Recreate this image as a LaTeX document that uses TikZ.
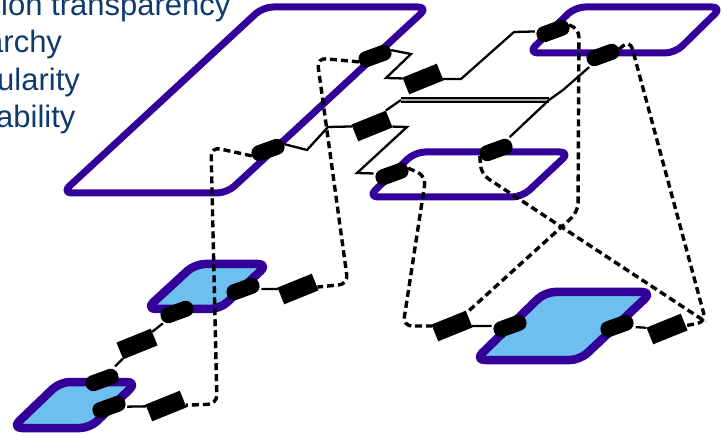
\documentclass[tikz,border=0pt]{standalone}
\usepackage{fontspec}
\setmainfont{Liberation Sans}
\definecolor{planeviolet}{HTML}{330099}
\definecolor{planefill}{HTML}{6DBFEF}
\definecolor{textnavy}{HTML}{0E3B6C}

\begin{document}
\begin{tikzpicture}[x=1pt, y=-1pt,
            port node/.style={rectangle, rounded corners=7.5pt, fill=black, inner sep=0pt, minimum width=34pt, minimum height=16pt, rotate=20},
            block node/.style={rectangle, fill=black, inner sep=0pt, minimum width=37pt, minimum height=18pt, rotate=22},
            wire edge/.style={draw=black, line width=2.3pt}]
            \tikzset{plane edge/.style={draw=planeviolet, line width=7pt, rounded corners=10pt, line join=round}}
            \tikzset{filled plane/.style={plane edge, fill=planefill, line width=8.5pt}}
            \tikzset{dash edge/.style={draw=black, line width=3.4pt, dash pattern=on 7pt off 4pt, rounded corners=9pt}}
            \tikzset{label text/.style={anchor=base west, text=textnavy, inner sep=0pt, font=\fontsize{31}{37}\selectfont}}
            \useasboundingbox (0,0) rectangle (723,438);
            % text on the left, cut by the border
            \node [label text] (t1) at (1, 16) {ion transparency};
            \node [label text] (t2) at (-14, 53) {archy};
            \node [label text] (t3) at (-3, 91) {ularity};
            \node [label text] (t4) at (-4, 128) {ability};
            % planes
            \draw [plane edge] (263,7) -- (428,7) -- (227,193) -- (62,193) -- cycle;
            \draw [plane edge] (575,7) -- (722,7) -- (675,53) -- (528,53) -- cycle;
            \draw [plane edge] (415,152) -- (570,152) -- (522,197) -- (368,197) -- cycle;
            \draw [filled plane] (195,264) -- (268,264) -- (220,309) -- (146,309) -- cycle;
            \draw [filled plane] (60,382) -- (137,382) -- (90,428) -- (12,428) -- cycle;
            \draw [filled plane] (545,292) -- (652,292) -- (580,360) -- (475,360) -- cycle;
            % ports
            \node [port node] (p1) at (375, 56) {};
            \node [port node] (p2) at (268, 150) {};
            \node [port node] (p3) at (553, 31) {};
            \node [port node] (p4) at (603, 55) {};
            \node [port node] (p5) at (392, 174) {};
            \node [port node] (p6) at (496, 150) {};
            \node [port node] (p7) at (243, 289) {};
            \node [port node] (p8) at (177, 312) {};
            \node [port node] (p9) at (102, 380) {};
            \node [port node] (p10) at (109, 407) {};
            \node [port node] (p11) at (510, 326) {};
            \node [port node] (p12) at (617, 326) {};
            % blocks
            \node [block node] (b1) at (423, 79) {};
            \node [block node] (b2) at (372, 126) {};
            \node [block node] (b3) at (137, 344) {};
            \node [block node] (b4) at (166, 406) {};
            \node [block node] (b5) at (298, 289) {};
            \node [block node] (b6) at (452, 326) {};
            \node [block node] (b7) at (667, 329) {};
            \coordinate (bl) at (401, 100);
            \coordinate (br) at (549, 100);
            \coordinate (k) at (706, 322);
            % solid wires
            \draw [wire edge] (p1.east) -- (411, 54) -- (386, 78) -- (b1);
            \draw [wire edge] (b1) -- (461, 79) -- (514, 32) -- (p3);
            \draw [wire edge] (p2.east) -- (307, 150) -- (328, 127) -- (b2);
            \draw [wire edge] (b2) -- (407, 127) -- (357, 173) -- (p5);
            \draw [wire edge] (b2.north east) -- (bl);
            \draw [wire edge, double=black!35, double distance=2.5pt, line width=1.6pt] (bl) -- (br);
            \draw [wire edge] (br) -- (563, 90) -- (p4);
            \draw [wire edge] (br) -- (p6);
            \draw [wire edge] (p7) -- (b5);
            \draw [wire edge] (p8) -- (b3);
            \draw [wire edge] (b3) -- (p9);
            \draw [wire edge] (p10) -- (b4);
            \draw [wire edge] (b6) -- (p11);
            \draw [wire edge] (p12) -- (b7);
            % dashed wires
            \draw [dash edge] (p1.west) -- (317, 58) -- (348, 284) -- (b5);
            \draw [dash edge] (p2.west) -- (211, 147) -- (217, 404) -- (b4);
            \draw [dash edge] (p3.east) -- (579, 28) -- (578, 212) -- (b6);
            \draw [dash edge] (p6.west) -- (481, 174) -- (k);
            \draw [dash edge] (p4.east) -- (630, 40) -- (k) -- (b7);
            \draw [dash edge] (p5.east) -- (426, 176) -- (403, 326) -- (b6);
        \end{tikzpicture}
\end{document}
